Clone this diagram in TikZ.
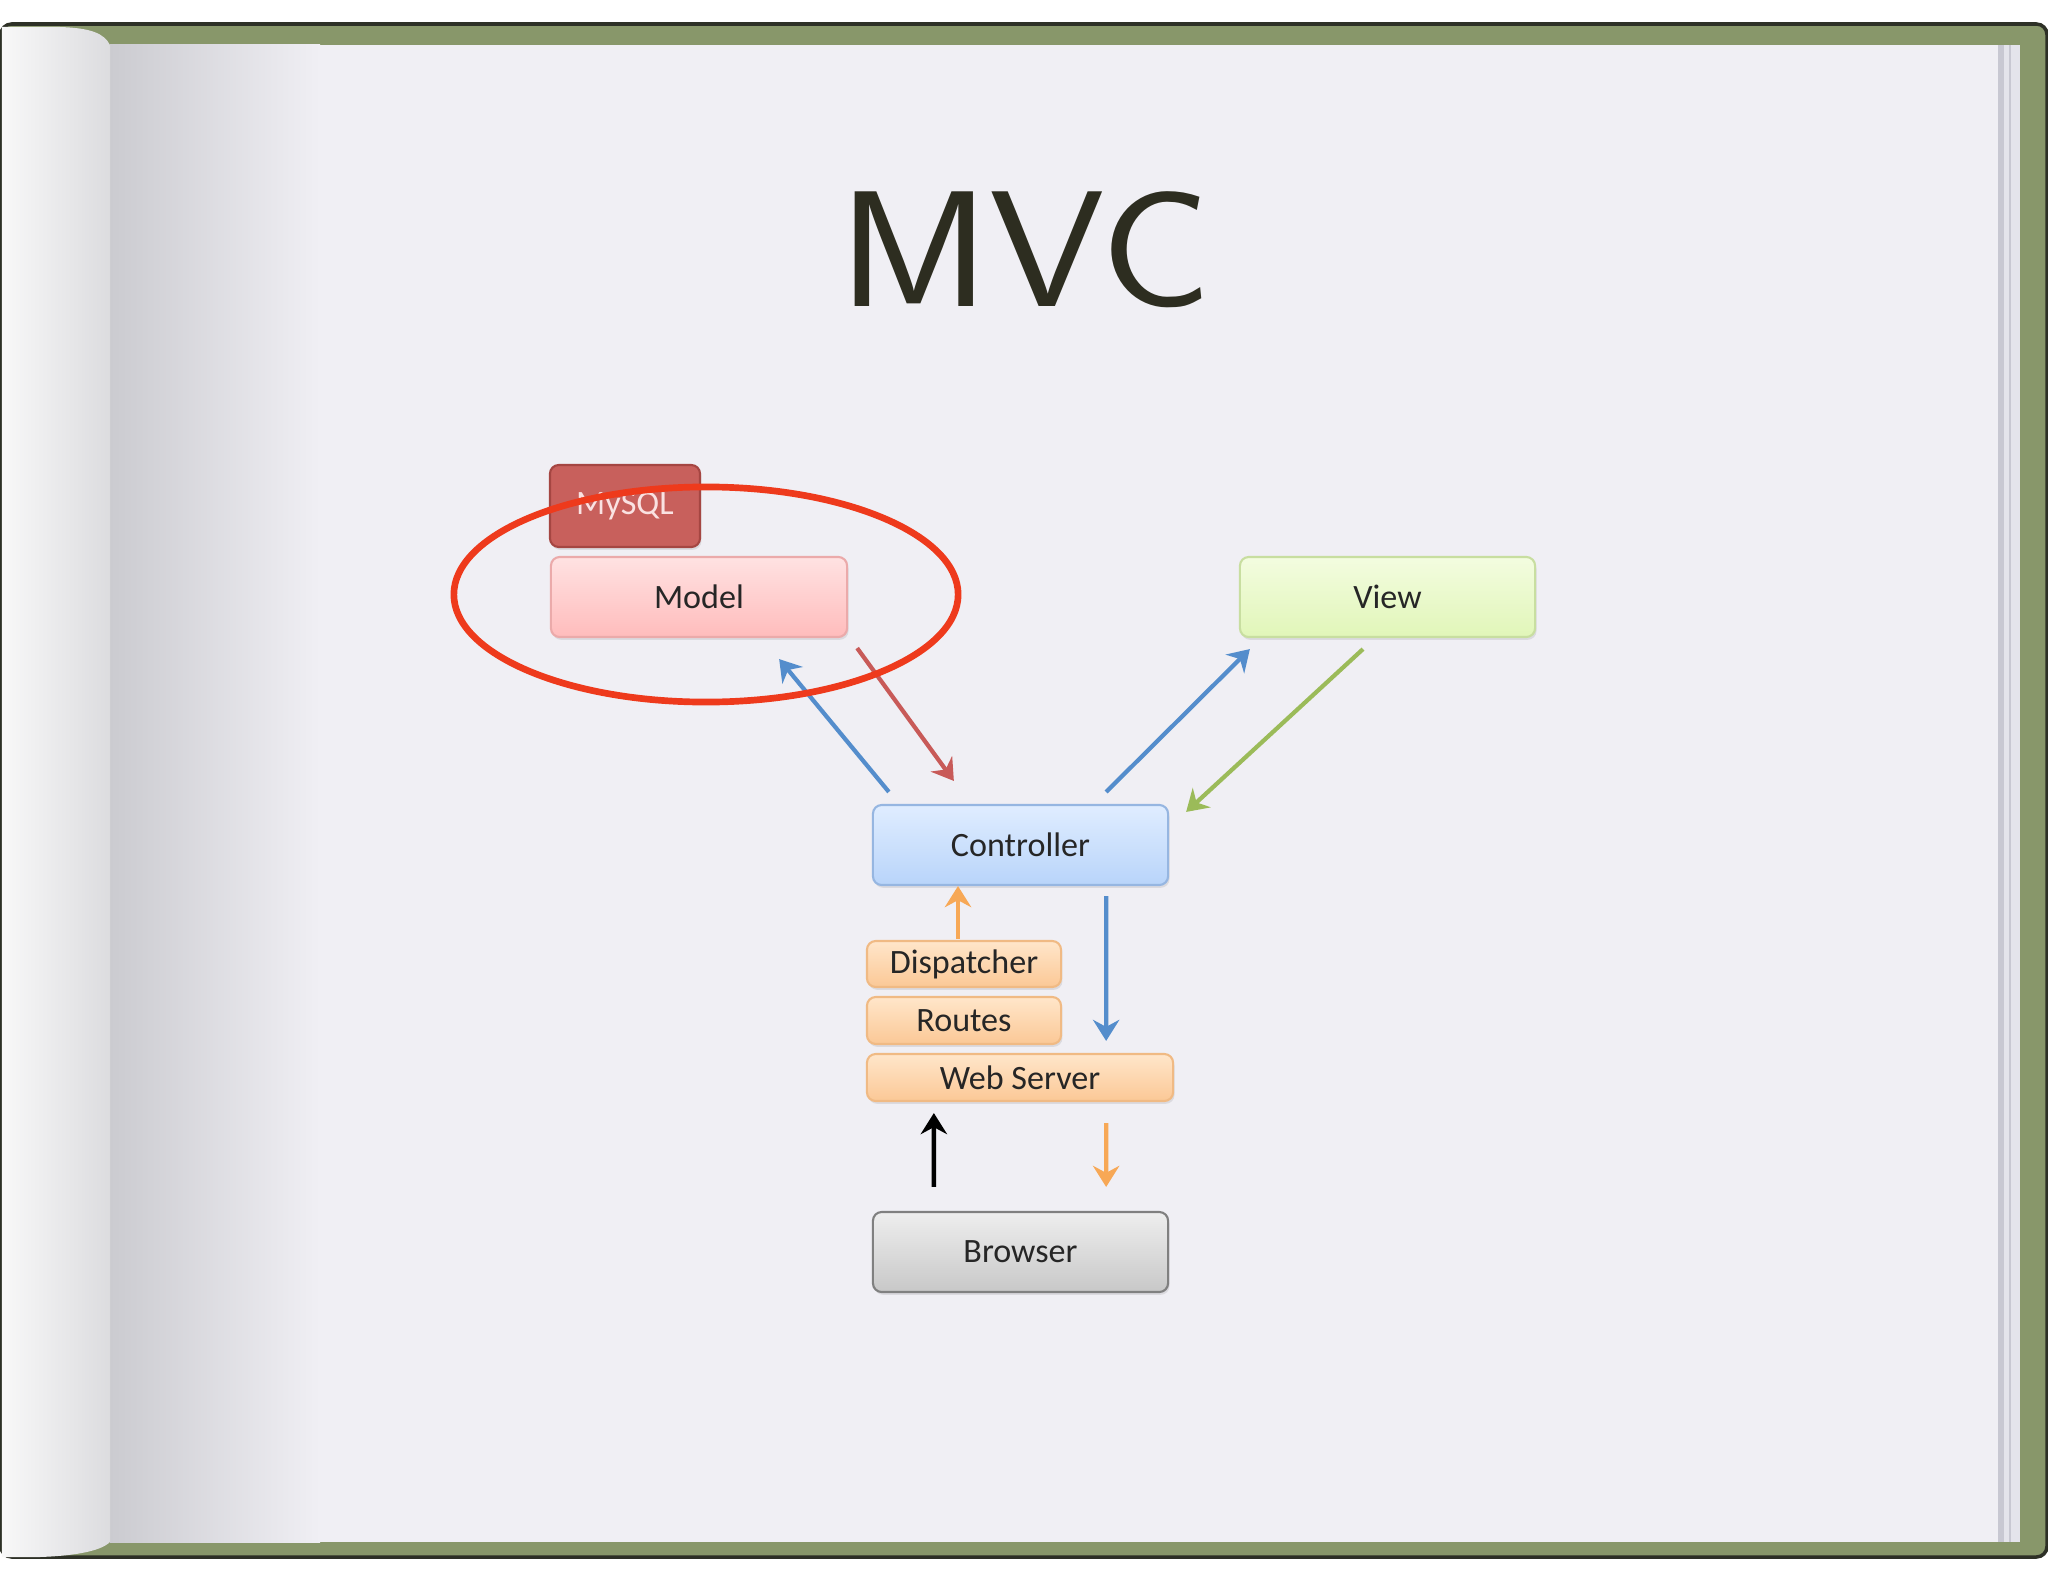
\documentclass[tikz,border=0pt]{standalone}
\usepackage{fontspec}
\usetikzlibrary{calc,arrows.meta,shadows}
\newfontfamily\boxfont{Carlito}

\definecolor{pagecol}{RGB}{240,239,244}
\definecolor{spinecol}{RGB}{203,203,208}
\definecolor{leafhi}{RGB}{248,248,248}
\definecolor{leaflo}{RGB}{220,220,223}
\definecolor{covercol}{RGB}{136,151,106}
\definecolor{coveredge}{RGB}{45,48,38}
\definecolor{stackdark}{RGB}{200,200,210}
\definecolor{stacklight}{RGB}{228,228,235}
\definecolor{titlecol}{RGB}{45,45,32}
\definecolor{boxtext}{RGB}{38,38,38}
\definecolor{arrblue}{RGB}{84,141,204}
\definecolor{arrred}{RGB}{200,90,88}
\definecolor{arrgreen}{RGB}{155,187,89}
\definecolor{arrorange}{RGB}{247,168,86}
\definecolor{ringcol}{RGB}{238,58,28}

\tikzset{
  box/.style={rectangle, rounded corners=2.5pt, line width=0.6pt, inner sep=0pt,
    font=\boxfont\fontsize{9.7}{11}\selectfont, text=boxtext,
    drop shadow={opacity=0.18, shadow xshift=0.4pt, shadow yshift=-0.8pt}},
  dbbox/.style={box, fill={rgb,255:red,200;green,96;blue,92}, draw={rgb,255:red,165;green,70;blue,66},
    text={rgb,255:red,250;green,226;blue,226}},
  modelbox/.style={box, top color={rgb,255:red,255;green,226;blue,226},
    bottom color={rgb,255:red,255;green,188;blue,188}, draw={rgb,255:red,235;green,170;blue,170}},
  viewbox/.style={box, top color={rgb,255:red,243;green,252;blue,224},
    bottom color={rgb,255:red,225;green,246;blue,184}, draw={rgb,255:red,200;green,222;blue,160}},
  ctrlbox/.style={box, top color={rgb,255:red,224;green,237;blue,255},
    bottom color={rgb,255:red,184;green,212;blue,250}, draw={rgb,255:red,150;green,182;blue,225}},
  layerbox/.style={box, top color={rgb,255:red,255;green,230;blue,202},
    bottom color={rgb,255:red,251;green,200;blue,150}, draw={rgb,255:red,240;green,186;blue,132}},
  clientbox/.style={box, top color={rgb,255:red,238;green,238;blue,238},
    bottom color={rgb,255:red,200;green,200;blue,200}, draw={rgb,255:red,128;green,128;blue,128}},
  flow/.style={line width=1.2pt, -{Stealth[length=6pt,width=7.5pt,inset=2pt]}}
}

\begin{document}
\begin{tikzpicture}[x=0.01cm, y=-0.01cm, line join=round]

  \useasboundingbox (0,0) rectangle (2048,1582);
  \fill[white] (0,0) rectangle (2048,1582);

  % cover and pages
  \fill[covercol, draw=coveredge, line width=1pt, rounded corners=3pt] (1,24) rectangle (2047,1557);
  \fill[pagecol] (110,45) rectangle (1998,1542);
  \shade[left color=spinecol, right color=pagecol] (110,45) rectangle (320,1542);
  \fill[stackdark] (1998,45) rectangle (2004,1542);
  \fill[stacklight] (2004,45) rectangle (2020,1542);
  \draw[stackdark, line width=0.3pt] (2010,45) -- (2010,1542);
  \shade[left color=leafhi, right color=leaflo]
    (2,27) -- (60,27) .. controls (90,28) and (104,33) .. (110,45)
    -- (110,1542) .. controls (100,1552) and (70,1556) .. (40,1557)
    -- (2,1557) -- cycle;

  % title
  \node[font=\sffamily\fontsize{47}{50}\selectfont, text=titlecol, anchor=base] (title) at (1025,307)
    {\scalebox{1.12}[1]{MVC}};

  % boxes
  \node[dbbox, minimum width=1.5cm, minimum height=0.82cm] (mysql) at (625,506) {MySQL};
  \node[modelbox, minimum width=2.96cm, minimum height=0.8cm] (model) at (699,597) {Model};
  \node[viewbox, minimum width=2.95cm, minimum height=0.8cm] (view) at (1387.5,597) {View};
  \node[ctrlbox, minimum width=2.95cm, minimum height=0.8cm] (ctrl) at (1020.5,845) {Controller};
  \node[layerbox, minimum width=1.94cm, minimum height=0.46cm] (disp) at (964,964) {Dispatcher};
  \node[layerbox, minimum width=1.94cm, minimum height=0.47cm] (routes) at (964,1020.5) {Routes};
  \node[layerbox, minimum width=3.06cm, minimum height=0.47cm] (websrv) at (1020,1077.5) {Web Server};
  \node[clientbox, minimum width=2.95cm, minimum height=0.8cm] (browser) at (1020.5,1252) {Browser};

  % arrows
  \draw[flow, arrblue] ($(ctrl.north west)+(17,-12)$) -- ($(model.south east)+(-69,21)$);
  \draw[flow, arrred] ($(model.south east)+(9,10)$) -- ($(ctrl.north west)+(82,-23)$);
  \draw[flow, arrblue] ($(ctrl.north east)+(-63,-12)$) -- ($(view.south west)+(11,11)$);
  \draw[flow, arrgreen] ($(view.south)+(-24.5,11)$) -- ($(ctrl.north east)+(17,8)$);
  \draw[flow, arrorange] ($(disp.north)+(-6,-1)$) -- ($(ctrl.south)+(-62.5,0)$);
  \draw[flow, arrblue] ($(ctrl.south east)+(-63,10)$) -- ($(websrv.north east)+(-68,-12)$);
  \draw[flow, black, line width=1.3pt] ($(browser.north west)+(62,-24)$) -- ($(websrv.south west)+(68,11)$);
  \draw[flow, arrorange] ($(websrv.south east)+(-68,21)$) -- ($(browser.north east)+(-63,-24)$);

  % highlight ring
  \draw[ringcol, line width=1.9pt] (706,594.5) ellipse [x radius=2.52cm, y radius=1.075cm];

\end{tikzpicture}
\end{document}
